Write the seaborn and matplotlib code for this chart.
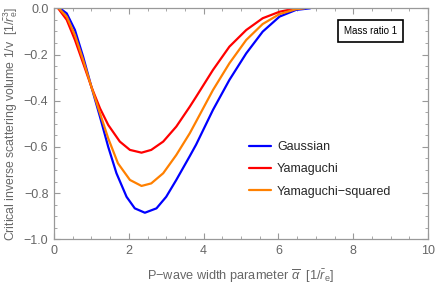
import matplotlib
matplotlib.use("Agg")
import matplotlib.pyplot as plt
import seaborn as sns
import pandas as pd
import numpy as np
from matplotlib.ticker import MultipleLocator
from matplotlib.lines import Line2D

# Data
gauss_x = [0.16, 0.34, 0.56, 0.78, 1.0, 1.23, 1.45, 1.67, 1.94, 2.16, 2.43, 2.74, 3.0, 3.27, 3.63, 3.8, 4.25, 4.69, 5.14, 5.58, 6.03, 6.47, 6.85]
gauss_y = [0, -0.022, -0.094, -0.21, -0.34, -0.47, -0.60, -0.714, -0.816, -0.866, -0.885, -0.866, -0.816, -0.743, -0.64, -0.59, -0.44, -0.31, -0.195, -0.101, -0.036, -0.007, 0]

yama_x = [0.11, 0.34, 0.56, 0.78, 1.0, 1.23, 1.45, 1.76, 2.03, 2.34, 2.6, 2.92, 3.27, 3.63, 3.8, 4.25, 4.69, 5.14, 5.58, 6.03, 6.38, 6.6]
yama_y = [0, -0.05, -0.137, -0.238, -0.34, -0.433, -0.505, -0.577, -0.613, -0.625, -0.613, -0.577, -0.512, -0.426, -0.383, -0.267, -0.166, -0.094, -0.043, -0.015, -0.003, 0]

yamasq_x = [0.13, 0.34, 0.56, 0.78, 1.0, 1.23, 1.45, 1.71, 2.03, 2.34, 2.6, 2.92, 3.27, 3.63, 3.8, 4.25, 4.69, 5.14, 5.58, 6.03, 6.47, 6.7]
yamasq_y = [0, -0.036, -0.116, -0.224, -0.34, -0.455, -0.563, -0.671, -0.743, -0.769, -0.758, -0.714, -0.635, -0.541, -0.49, -0.354, -0.238, -0.137, -0.068, -0.025, -0.004, 0]

series_names = ["Gaussian", "Yamaguchi", "Yamaguchi\u2212squared"]
series_colors = ["#0000ff", "#ff0000", "#ff8000"]

x_ticks = [0, 2, 4, 6, 8, 10]
y_ticks = [0.0, -0.2, -0.4, -0.6, -0.8, -1.0]

df = pd.concat([
    pd.DataFrame({"x": gauss_x, "y": gauss_y, "s": series_names[0]}),
    pd.DataFrame({"x": yama_x, "y": yama_y, "s": series_names[1]}),
    pd.DataFrame({"x": yamasq_x, "y": yamasq_y, "s": series_names[2]}),
], ignore_index=True)

sns.set_theme(style="white")
plt.rcParams["font.family"] = ["Liberation Sans", "DejaVu Sans"]
plt.rcParams["mathtext.fontset"] = "custom"
plt.rcParams["mathtext.rm"] = "Liberation Sans"
plt.rcParams["mathtext.it"] = "Liberation Sans:italic"
plt.rcParams["mathtext.bf"] = "Liberation Sans:bold"

fig = plt.figure(figsize=(4.36, 2.86), dpi=100)
ax = fig.add_axes([54/436, 1 - 239.3/286, 374/436, 231/286])

sns.lineplot(data=df, x="x", y="y", hue="s", palette=dict(zip(series_names, series_colors)),
             sort=False, estimator=None, linewidth=1.6, ax=ax, legend=False)

ax.set_xlim(0, 10)
ax.set_ylim(-1.0, 0.0)
ax.set_xticks(x_ticks)
ax.set_xticklabels([str(t) for t in x_ticks])
ax.set_yticks(y_ticks)
ax.set_yticklabels([f"{t:.1f}".replace("-", "\u2212") for t in y_ticks])
ax.xaxis.set_minor_locator(MultipleLocator(0.5))
ax.yaxis.set_minor_locator(MultipleLocator(0.05))

gray = "#999999"
for sp in ax.spines.values():
    sp.set_visible(True)
    sp.set_color(gray)
    sp.set_linewidth(0.9)
ax.tick_params(which="both", direction="in", top=True, right=True, bottom=True, left=True,
               color=gray, labelcolor="#666666", labelsize=9)
ax.tick_params(which="major", length=4, width=0.8, pad=4)
ax.tick_params(which="minor", length=2.5, width=0.6)

ax.set_xlabel("P\u2212wave width parameter $\\overline{\\alpha}$  $[1/\\bar{r}_\\mathrm{e}]$",
              fontsize=9.2, color="#666666", labelpad=8)
ax.set_ylabel("Critical inverse scattering volume 1/v  $[1/\\bar{r}_\\mathrm{e}^3]$",
              fontsize=8.8, color="#666666", labelpad=3)

ax.text(0.846, 0.902, "Mass ratio 1", transform=ax.transAxes, ha="center", va="center",
        fontsize=7, color="black",
        bbox=dict(boxstyle="square,pad=0.6", facecolor="white", edgecolor="black", linewidth=1.2))

handles = [Line2D([0], [0], color=c, lw=1.6) for c in series_colors]
ax.legend(handles, series_names, loc="upper left", bbox_to_anchor=(0.521, 0.425),
          frameon=False, fontsize=9, borderpad=0, borderaxespad=0,
          handlelength=1.76, handletextpad=0.5, labelspacing=0.82)

fig.savefig("out.png", dpi=100)
